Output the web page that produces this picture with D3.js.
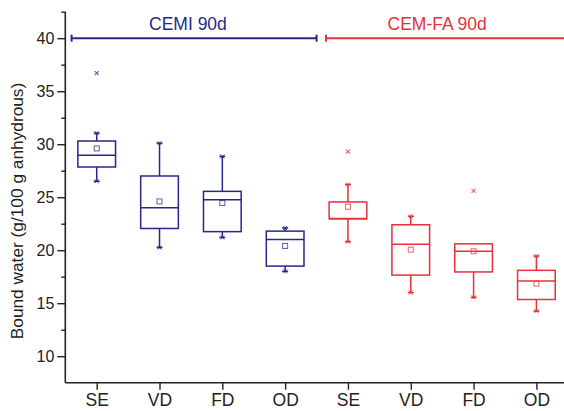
<!DOCTYPE html>
<html><head><meta charset="utf-8">
<script src="https://cdn.jsdelivr.net/npm/d3@7"></script>
<style>body{margin:0;background:#fff}svg{display:block;font-family:"Liberation Sans",Arial,sans-serif}</style>
</head><body><svg id="c" width="564" height="411"></svg>
<script>
const categories = ["SE","VD","FD","OD","SE","VD","FD","OD"];
const groupOf    = [0,0,0,0,1,1,1,1];
const groupNames = ["CEMI 90d","CEM-FA 90d"];
const groupColors = ["#27278a","#e8303a"];
const groupStart = [0.6, 4.65];
const groupEnd   = [4.5, 8.6];
const whiskerLow  = [26.5, 20.25, 21.2, 18.0, 20.8, 16.0, 15.55, 14.25];
const q1          = [27.85, 22.05, 21.75, 18.5, 22.95, 17.65, 17.95, 15.35];
const median      = [28.95, 24.0, 24.75, 21.0, 23.0, 20.55, 19.9, 17.1];
const q3          = [30.3, 27.0, 25.55, 21.8, 24.55, 22.4, 20.6, 18.1];
const whiskerHigh = [31.05, 30.1, 28.85, 22.1, 26.2, 23.2, 20.6, 19.45];
const means       = [29.6, 24.6, 24.45, 20.4, 24.1, 20.05, 19.9, 16.85];
const outliers    = [[36.7], [], [], [], [29.3], [], [25.6], []];
const groupLineValue = 40;
const yMajor = [10,15,20,25,30,35,40];
const yMinor = [12.5,17.5,22.5,27.5,32.5,37.5,42.5];

const svg = d3.select("#c");
const x = d3.scaleLinear().domain([0.5, 8.5]).range([65.3, 567.8]);
const y = d3.scaleLinear().domain([7.5, 42.5]).range([382.7, 11.7]);
const axisColor = "#222";
const bw = 0.6;

// axes
const yAx = svg.append("g").attr("transform","translate(65.3,0)")
  .call(d3.axisLeft(y).tickValues(yMajor).tickSize(8).tickPadding(3).tickFormat(d3.format("d")));
svg.append("g").attr("transform","translate(65.3,0)")
  .call(d3.axisLeft(y).tickValues(yMinor).tickSize(4).tickFormat(""))
  .call(g=>g.select(".domain").remove());
const xAx = svg.append("g").attr("transform","translate(0,382.7)")
  .call(d3.axisBottom(x).tickValues(d3.range(1,9)).tickSize(7).tickPadding(4).tickFormat((d,i)=>categories[i]));
svg.selectAll(".domain").attr("stroke",axisColor).attr("stroke-width",1.6);
svg.selectAll(".tick line").attr("stroke",axisColor).attr("stroke-width",1.4);
yAx.selectAll("text").attr("font-size",16).attr("fill","#222");
xAx.selectAll("text").attr("font-size",17.5).attr("fill","#222");
yAx.select(".domain").attr("d", `M0,${y(42.5)}V${y(7.5)}`);
xAx.select(".domain").attr("d", `M${x(0.5)},0H${x(8.5)}`);

svg.append("text").attr("transform","translate(23,211) rotate(-90)")
  .attr("text-anchor","middle").attr("font-size",17.3).attr("fill","#222")
  .text("Bound water (g/100 g anhydrous)");

// group lines and titles
groupNames.forEach((name,g)=>{
  const c = groupColors[g];
  const gy = y(groupLineValue);
  svg.append("line").attr("x1",x(groupStart[g])).attr("x2",x(groupEnd[g]))
    .attr("y1",gy).attr("y2",gy).attr("stroke",c).attr("stroke-width",2);
  [groupStart[g], groupEnd[g]].forEach(v=>{
    svg.append("line").attr("x1",x(v)).attr("x2",x(v)).attr("y1",gy-3.5).attr("y2",gy+3.5)
      .attr("stroke",c).attr("stroke-width",2);
  });
  svg.append("text").attr("x", g===0 ? x(2.5)-3 : x(6.5)-5).attr("y",29.5)
    .attr("text-anchor","middle").attr("font-size",17.5).attr("fill",c).text(name);
});

// boxes
categories.forEach((cat,i)=>{
  const c = groupColors[groupOf[i]];
  const cx = x(i+1), hw = (x(1+bw/2)-x(1));
  const g = svg.append("g").attr("stroke",c).attr("fill","none").attr("stroke-width",1.5);
  g.append("line").attr("x1",cx).attr("x2",cx).attr("y1",y(q3[i])).attr("y2",y(whiskerHigh[i]));
  g.append("line").attr("x1",cx).attr("x2",cx).attr("y1",y(q1[i])).attr("y2",y(whiskerLow[i]));
  [whiskerLow[i], whiskerHigh[i]].forEach(v=>{
    if (v===q3[i]) return;
    g.append("line").attr("x1",cx-3).attr("x2",cx+3).attr("y1",y(v)).attr("y2",y(v));
    g.append("path").attr("d",`M${cx-2},${y(v)-2}L${cx+2},${y(v)+2}M${cx-2},${y(v)+2}L${cx+2},${y(v)-2}`)
      .attr("stroke-width",1).attr("opacity",0.85);
  });
  g.append("rect").attr("x",cx-hw).attr("width",2*hw).attr("y",y(q3[i]))
    .attr("height",y(q1[i])-y(q3[i])).attr("fill","#fff");
  g.append("line").attr("x1",cx-hw).attr("x2",cx+hw).attr("y1",y(median[i])).attr("y2",y(median[i]));
  g.append("rect").attr("x",cx-2.5).attr("y",y(means[i])-2.5).attr("width",5).attr("height",5)
    .attr("stroke-width",1).attr("opacity",0.75);
  outliers[i].forEach(v=>{
    g.append("path").attr("d",`M${cx-2},${y(v)-2}L${cx+2},${y(v)+2}M${cx-2},${y(v)+2}L${cx+2},${y(v)-2}`)
      .attr("stroke-width",1.1).attr("opacity",0.75);
  });
});
</script></body></html>
